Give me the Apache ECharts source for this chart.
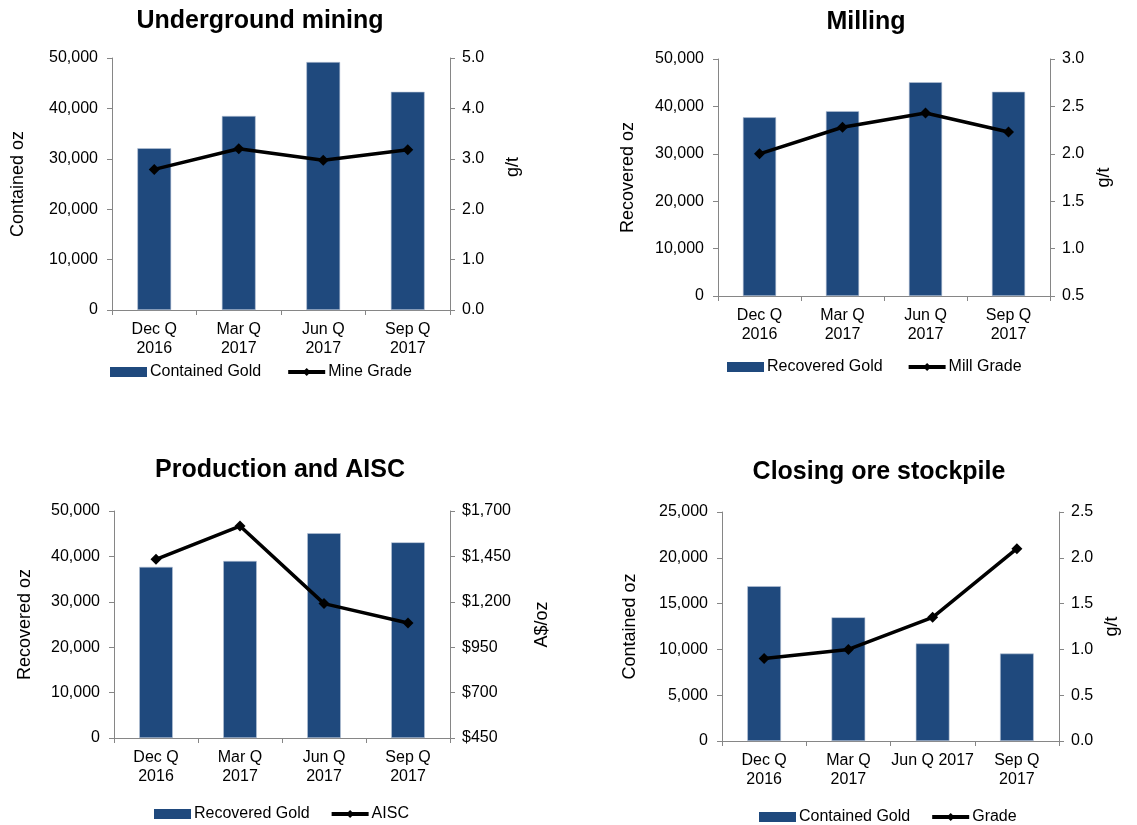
<!DOCTYPE html>
<html>
<head>
<meta charset="utf-8">
<title>Quarterly operations</title>
<script src="https://cdn.jsdelivr.net/npm/echarts@6/dist/echarts.min.js"></script>
<style>
  html, body { margin: 0; padding: 0; background: #ffffff; }
  #chart { width: 1137px; height: 825px; }
</style>
</head>
<body>
<div id="chart"></div>
<script>
// Quarter labels
const quarters = ['Dec Q\n2016', 'Mar Q\n2017', 'Jun Q\n2017', 'Sep Q\n2017'];
const stockpileQuarters = ['Dec Q\n2016', 'Mar Q\n2017', 'Jun Q 2017', 'Sep Q\n2017'];

// Underground mining
const minedContainedOz = [32100, 38500, 49200, 43300];
const mineGrade = [2.79, 3.20, 2.97, 3.18];

// Milling
const recoveredOz = [37700, 39000, 45100, 43100];
const millGrade = [2.0, 2.28, 2.43, 2.23];

// Production and AISC (A$/oz)
const aisc = [1434, 1617, 1190, 1083];
const aiscTicks = [450, 700, 950, 1200, 1450, 1700];

// Closing ore stockpile
const stockpileContainedOz = [16900, 13500, 10650, 9550];
const stockpileGrade = [0.9, 1.0, 1.35, 2.1];

const FONT = 'Arial, "Liberation Sans", sans-serif';
const BAR = '#1f497d';
const AXIS = '#868686';

const chart = echarts.init(document.getElementById('chart'), null, { renderer: 'canvas' });

const thousands = v => Math.round(v).toLocaleString('en-US');
const oneDecimal = v => v.toFixed(1);
const dollars = v => '$' + Math.round(v).toLocaleString('en-US');

function xAxisFor(gridIndex, cats) {
  return {
    type: 'category', gridIndex, data: cats, boundaryGap: true,
    axisLine: { show: true, lineStyle: { color: AXIS, width: 1 } },
    axisTick: { show: true, length: 5, lineStyle: { color: AXIS } },
    axisLabel: { color: '#000', fontFamily: FONT, fontSize: 16, lineHeight: 19, margin: 10, interval: 0 }
  };
}

function leftAxis(gridIndex, name, min, max, interval, nameGap) {
  return {
    type: 'value', gridIndex, position: 'left', min, max, interval,
    name, nameLocation: 'middle', nameRotate: 90, nameGap,
    nameTextStyle: { color: '#000', fontFamily: FONT, fontSize: 18 },
    axisLine: { show: true, lineStyle: { color: AXIS } },
    axisTick: { show: true, length: 5, lineStyle: { color: AXIS } },
    axisLabel: { color: '#000', fontFamily: FONT, fontSize: 16, margin: 14, formatter: thousands },
    splitLine: { show: false }
  };
}

function rightAxis(gridIndex, name, min, max, interval, nameGap, formatter, extra) {
  const ax = {
    type: 'value', gridIndex, position: 'right', min, max,
    name, nameLocation: 'middle', nameRotate: 90, nameGap,
    nameTextStyle: { color: '#000', fontFamily: FONT, fontSize: 18 },
    axisLine: { show: true, lineStyle: { color: AXIS } },
    axisTick: { show: true, length: 5, lineStyle: { color: AXIS } },
    axisLabel: { color: '#000', fontFamily: FONT, fontSize: 16, margin: 12, formatter },
    splitLine: { show: false }
  };
  if (interval != null) ax.interval = interval;
  return Object.assign(ax, extra || {});
}

function barSeries(name, idx, data) {
  return {
    name, type: 'bar', xAxisIndex: idx, yAxisIndex: idx * 2, data,
    barWidth: '40%',
    itemStyle: { color: BAR, borderColor: '#b9c5d6', borderWidth: 0.6 }
  };
}

function lineSeries(name, idx, data) {
  return {
    name, type: 'line', xAxisIndex: idx, yAxisIndex: idx * 2 + 1, data,
    symbol: 'diamond', symbolSize: 11, showSymbol: true,
    lineStyle: { color: '#000', width: 3.5 },
    itemStyle: { color: '#000' }, z: 5
  };
}

function titleAt(text, cx, top) {
  return {
    text, left: cx, top, textAlign: 'center', padding: 0,
    textStyle: { fontFamily: FONT, fontSize: 25, fontWeight: 'bold', color: '#000' }
  };
}

function legendAt(barName, lineName, left, top, gap) {
  return {
    data: [
      { name: barName, icon: 'rect', itemStyle: { borderWidth: 0 } },
      { name: lineName }
    ],
    left, top, padding: 0, itemGap: gap,
    itemWidth: 37, itemHeight: 10,
    lineStyle: { width: 4 },
    textStyle: { fontFamily: FONT, fontSize: 16, color: '#000', padding: [0, 0, 0, -2] },
    selectedMode: false
  };
}

const option = {
  animation: false,
  backgroundColor: '#ffffff',
  title: [
    titleAt('Underground mining', 260, 9),
    titleAt('Milling', 866, 10),
    titleAt('Production and AISC', 280, 458),
    titleAt('Closing ore stockpile', 879, 460)
  ],
  legend: [
    legendAt('Contained Gold', 'Mine Grade', 110, 364, 25),
    legendAt('Recovered Gold', 'Mill Grade', 727, 359, 24),
    legendAt('Recovered Gold', 'AISC', 154, 806, 20),
    legendAt('Contained Gold', 'Grade', 759, 809, 20)
  ],
  grid: [
    { left: 112, top: 58, width: 338, height: 252 },
    { left: 718, top: 59, width: 332, height: 237 },
    { left: 114, top: 511, width: 336, height: 227 },
    { left: 722, top: 512, width: 337, height: 229 }
  ],
  xAxis: [
    xAxisFor(0, quarters),
    xAxisFor(1, quarters),
    xAxisFor(2, quarters),
    xAxisFor(3, stockpileQuarters)
  ],
  yAxis: [
    leftAxis(0, 'Contained oz', 0, 50000, 10000, 85),
    rightAxis(0, 'g/t', 0, 5, 1, 54, oneDecimal, {
      // unit label sits a little above the middle of this axis
      nameTextStyle: { color: '#000', fontFamily: FONT, fontSize: 18, padding: [0, 0, 0, 34] }
    }),
    leftAxis(1, 'Recovered oz', 0, 50000, 10000, 81),
    rightAxis(1, 'g/t', 0.5, 3.0, 0.5, 45, oneDecimal),
    leftAxis(2, 'Recovered oz', 0, 50000, 10000, 80),
    rightAxis(2, 'A$/oz', 450, 1700, null, 83, dollars, {
      axisLabel: { color: '#000', fontFamily: FONT, fontSize: 16, margin: 12, formatter: dollars, customValues: aiscTicks },
      axisTick: { show: true, length: 5, lineStyle: { color: AXIS }, customValues: aiscTicks }
    }),
    leftAxis(3, 'Contained oz', 0, 25000, 5000, 83),
    rightAxis(3, 'g/t', 0, 2.5, 0.5, 44, oneDecimal)
  ],
  series: [
    barSeries('Contained Gold', 0, minedContainedOz),
    lineSeries('Mine Grade', 0, mineGrade),
    barSeries('Recovered Gold', 1, recoveredOz),
    lineSeries('Mill Grade', 1, millGrade),
    barSeries('Recovered Gold', 2, recoveredOz),
    lineSeries('AISC', 2, aisc),
    barSeries('Contained Gold', 3, stockpileContainedOz),
    lineSeries('Grade', 3, stockpileGrade)
  ]
};

chart.setOption(option);
</script>
</body>
</html>
